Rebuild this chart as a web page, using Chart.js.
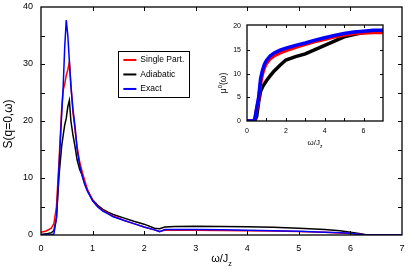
<!DOCTYPE html>
<html>
<head>
<meta charset="utf-8">
<script src="https://cdn.jsdelivr.net/npm/chart.js@4.4.1/dist/chart.umd.min.js"></script>
<style>
  html, body { margin: 0; padding: 0; background: #fff; }
  #wrap { position: relative; width: 415px; height: 273px; }
  #main { position: absolute; left: 0; top: 0; }
  #inset { position: absolute; left: 205px; top: 18px; }
</style>
</head>
<body>
<div id="wrap">
  <canvas id="main" width="415" height="273"></canvas>
  <canvas id="inset" width="190" height="135"></canvas>
</div>
<script>
// main panel: S(q=0,w)
const omega      = [0, 0.1, 0.2, 0.25, 0.3, 0.35, 0.4, 0.43, 0.46, 0.49, 0.52, 0.55, 0.58, 0.62, 0.66, 0.7, 0.75, 0.8, 0.85, 0.9, 1.0, 1.1, 1.2, 1.3, 1.4, 1.5, 1.6, 1.8, 2.0, 2.2, 2.3, 2.4, 2.6, 3.0, 3.5, 4.0, 4.5, 5.0, 5.5, 5.8, 6.0, 6.2, 6.3, 6.4, 7.0];
const singlePart = [0.5, 0.7, 1.2, 2.0, 5.0, 13, 22, 25.4, 26.5, 28, 29, 30.3, 26.5, 21.5, 18.5, 15.5, 12.8, 11, 9.5, 8.0, 6.1, 5.0, 4.3, 3.8, 3.3, 3.0, 2.6, 2.0, 1.4, 0.9, 0.6, 0.85, 0.85, 0.85, 0.8, 0.75, 0.7, 0.6, 0.5, 0.35, 0.25, 0.1, 0, 0, 0];
const adiabatic  = [0.1, 0.2, 0.4, 0.8, 3.0, 10.5, 15.5, 17.5, 19.3, 20.5, 22.5, 23.6, 20, 17.5, 15.5, 13.2, 11.5, 10.5, 9.0, 7.8, 6.2, 5.2, 4.5, 4.0, 3.6, 3.3, 3.0, 2.4, 1.9, 1.2, 1.1, 1.4, 1.5, 1.55, 1.5, 1.45, 1.35, 1.2, 0.95, 0.75, 0.5, 0.2, 0.05, 0, 0];
const exact      = [0, 0, 0, 0.2, 3.0, 12, 21, 26, 33, 37.7, 35, 30.5, 26, 22, 19, 15, 12.2, 10.3, 8.8, 7.7, 6.0, 4.9, 4.2, 3.7, 3.2, 2.9, 2.6, 2.0, 1.4, 0.9, 0.6, 0.95, 0.95, 0.95, 0.9, 0.85, 0.75, 0.65, 0.5, 0.4, 0.3, 0.1, 0, 0, 0];

// inset: mu^0(w)
const insetOmega     = [0, 0.2, 0.3, 0.4, 0.5, 0.6, 0.7, 0.8, 0.9, 1.0, 1.2, 1.4, 1.7, 2.0, 2.5, 3.0, 3.5, 4.0, 4.5, 5.0, 5.5, 6.0, 6.5, 7.0];
const insetSingle    = [0, 0, 0, 0.3, 2.5, 4.5, 8.0, 10.0, 11.3, 12.2, 13.2, 13.8, 14.4, 14.9, 15.6, 16.2, 16.8, 17.3, 17.8, 18.2, 18.5, 18.6, 18.7, 18.7];
const insetAdiabatic = [0, 0, 0, 0, 1.0, 4.0, 6.3, 7.2, 7.9, 8.5, 9.6, 10.6, 11.8, 12.9, 13.6, 14.2, 15.1, 16.0, 16.9, 17.8, 18.3, 18.7, 18.9, 19.0];
const insetExact     = [0, 0, 0, 0.3, 2.8, 5.0, 9.0, 10.8, 12.0, 12.8, 13.8, 14.4, 15.0, 15.4, 16.0, 16.5, 17.1, 17.6, 18.1, 18.5, 18.8, 19.0, 19.2, 19.2];

const seriesLabels = ['Single Part.', 'Adiabatic', 'Exact'];
const seriesColors = ['#ff0000', '#000000', '#0000ff'];
const drawOrder = [1, 2, 0];   // blue on top, black at the bottom

const mainXTicks = [0, 1, 2, 3, 4, 5, 6, 7];
const mainYTicks = [0, 10, 20, 30, 40];
const mainYMinor = [5, 15, 25, 35];
const insetXTicks = [0, 2, 4, 6];
const insetXMinor = [1, 3, 5];
const insetYTicks = [0, 5, 10, 15, 20];

const FONT = '"Liberation Sans", Arial, sans-serif';

function pts(xs, ys) { return xs.map((x, i) => ({ x: x, y: ys[i] })); }

// frame + inward ticks on all four sides
function framePlugin(tl, xMaj, xMin, yMaj, yMin) {
  return {
    id: 'frame',
    afterDatasetsDraw(chart) {
      const { ctx, chartArea: a, scales } = chart;
      ctx.save();
      ctx.strokeStyle = '#000';
      ctx.lineWidth = 1.3;
      ctx.strokeRect(a.left, a.top, a.right - a.left, a.bottom - a.top);
      ctx.lineWidth = 1;
      ctx.beginPath();
      xMaj.concat(xMin).forEach(v => {
        const px = Math.round(scales.x.getPixelForValue(v)) + 0.5;
        ctx.moveTo(px, a.bottom); ctx.lineTo(px, a.bottom - tl);
        ctx.moveTo(px, a.top); ctx.lineTo(px, a.top + tl);
      });
      yMaj.concat(yMin).forEach(v => {
        const py = Math.round(scales.y.getPixelForValue(v)) + 0.5;
        ctx.moveTo(a.left, py); ctx.lineTo(a.left + tl, py);
        ctx.moveTo(a.right, py); ctx.lineTo(a.right - tl, py);
      });
      ctx.stroke();
      ctx.restore();
    }
  };
}

// axis titles with sub/superscripts
function titlePlugin(size, xOff, yOff, ySup) {
  return {
    id: 'titles',
    afterDraw(chart) {
      const { ctx, chartArea: a } = chart;
      ctx.save();
      ctx.fillStyle = '#000';
      // x title: w/J_z
      const cx = (a.left + a.right) / 2;
      const by = a.bottom + yOff;
      ctx.font = size + 'px ' + FONT;
      const main = 'ω/J';
      const w = ctx.measureText(main).width;
      const sub = Math.round(size * 0.65);
      ctx.textBaseline = 'alphabetic';
      ctx.textAlign = 'left';
      ctx.fillText(main, cx - (w + sub * 0.5) / 2, by);
      ctx.font = sub + 'px ' + FONT;
      ctx.fillText('z', cx - (w + sub * 0.5) / 2 + w, by + size * 0.35);
      // y title
      ctx.translate(a.left - xOff, (a.top + a.bottom) / 2 + ySup.dy);
      ctx.rotate(-Math.PI / 2);
      ctx.textBaseline = 'middle';
      ctx.font = ySup.size + 'px ' + FONT;
      if (ySup.sup) {
        const t1 = 'μ', t2 = '(ω)';
        const w1 = ctx.measureText(t1).width, w2 = ctx.measureText(t2).width;
        const ss = Math.round(ySup.size * 0.75);
        ctx.font = ss + 'px ' + FONT;
        const ws = ctx.measureText(ySup.sup).width;
        let x0 = -(w1 + ws + w2) / 2;
        ctx.font = ySup.size + 'px ' + FONT;
        ctx.fillText(t1, x0, 0);
        ctx.font = ss + 'px ' + FONT;
        ctx.fillText(ySup.sup, x0 + w1, -ySup.size * 0.45);
        ctx.font = ySup.size + 'px ' + FONT;
        ctx.fillText(t2, x0 + w1 + ws, 0);
      } else {
        ctx.textAlign = 'center';
        ctx.fillText(ySup.text, 0, 0);
      }
      ctx.restore();
    }
  };
}

const legendPlugin = {
  id: 'boxLegend',
  afterDraw(chart) {
    const { ctx, scales } = chart;
    const x0 = scales.x.getPixelForValue(1.5), y0 = scales.y.getPixelForValue(32.2);
    const w = 71, h = 46;
    ctx.save();
    ctx.fillStyle = '#fff';
    ctx.fillRect(x0, y0, w, h);
    ctx.strokeStyle = '#000';
    ctx.lineWidth = 1;
    ctx.strokeRect(Math.round(x0) + 0.5, Math.round(y0) + 0.5, w, h);
    ctx.font = '8.5px ' + FONT;
    ctx.textBaseline = 'middle';
    ctx.textAlign = 'left';
    seriesLabels.forEach((lab, i) => {
      const yy = y0 + 8.5 + i * 14.5;
      ctx.strokeStyle = seriesColors[i];
      ctx.lineWidth = 2;
      ctx.beginPath();
      ctx.moveTo(x0 + 5, yy); ctx.lineTo(x0 + 18, yy);
      ctx.stroke();
      ctx.fillStyle = '#000';
      ctx.fillText(lab, x0 + 22, yy);
    });
    ctx.restore();
  }
};

function makeSets(xs, ysList, width) {
  return ysList.map((ys, i) => ({
    label: seriesLabels[i],
    data: pts(xs, ys),
    borderColor: seriesColors[i],
    backgroundColor: seriesColors[i],
    borderWidth: width,
    pointRadius: 0,
    showLine: true,
    tension: 0,
    order: drawOrder[i]
  }));
}

function axes(xMax, yMax, xTicks, yTicks, fontSize, pad, yWidth, xHeight) {
  return {
    x: {
      type: 'linear', min: 0, max: xMax,
      grid: { display: false, drawTicks: false }, border: { display: false },
      afterBuildTicks: s => { s.ticks = xTicks.map(v => ({ value: v })); },
      afterFit: s => { s.height = xHeight; s.paddingLeft = 0; s.paddingRight = 0; },
      ticks: { font: { size: fontSize, family: FONT }, color: '#000', padding: pad, maxRotation: 0 }
    },
    y: {
      type: 'linear', min: 0, max: yMax,
      grid: { display: false, drawTicks: false }, border: { display: false },
      afterBuildTicks: s => { s.ticks = yTicks.map(v => ({ value: v })); },
      afterFit: s => { s.width = yWidth; s.paddingTop = 0; s.paddingBottom = 0; },
      ticks: { font: { size: fontSize, family: FONT }, color: '#000', padding: pad }
    }
  };
}

new Chart(document.getElementById('main'), {
  type: 'scatter',
  data: { datasets: makeSets(omega, [singlePart, adiabatic, exact], 1.5) },
  options: {
    responsive: false, animation: false, devicePixelRatio: 1,
    layout: { padding: { left: 0, top: 7, right: 13, bottom: 0 } },
    plugins: { legend: { display: false }, tooltip: { enabled: false } },
    scales: axes(7, 40, mainXTicks, mainYTicks, 9, 8, 41, 38)
  },
  plugins: [framePlugin(4, mainXTicks.slice(1, -1), [], mainYTicks.slice(1, -1), mainYMinor),
            titlePlugin(11, 32, 27, { text: 'S(q=0,ω)', size: 12, dy: 3 }),
            legendPlugin]
});

new Chart(document.getElementById('inset'), {
  type: 'scatter',
  data: { datasets: makeSets(insetOmega, [insetSingle, insetAdiabatic, insetExact], 3.5) },
  options: {
    responsive: false, animation: false, devicePixelRatio: 1,
    layout: { padding: { left: 0, top: 7, right: 12, bottom: 0 } },
    plugins: { legend: { display: false }, tooltip: { enabled: false } },
    scales: axes(7, 20.3, insetXTicks, insetYTicks, 7, 6, 42, 32)
  },
  plugins: [framePlugin(3, insetXTicks.slice(1), insetXMinor, insetYTicks.slice(1, -1), []),
            titlePlugin(8, 23, 24, { sup: '0', size: 8.5, dy: 10 })]
});
</script>
</body>
</html>
